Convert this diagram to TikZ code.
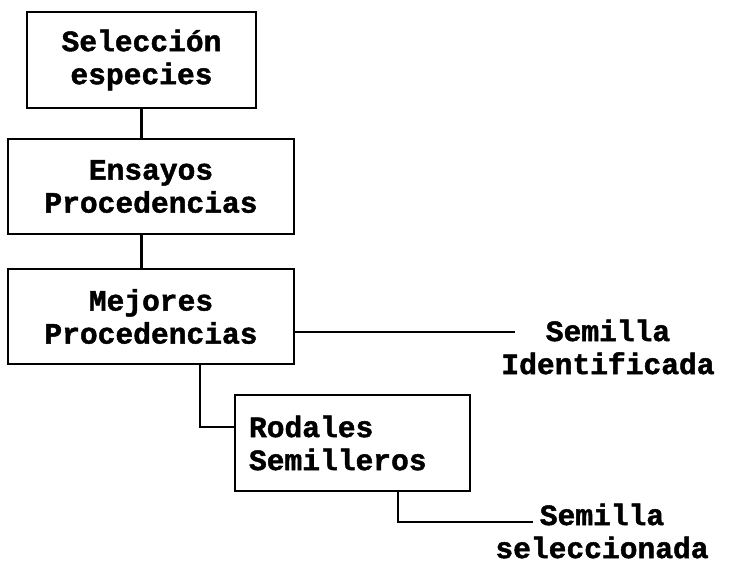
\documentclass[tikz,border=0pt]{standalone}
\usepackage{fontspec}
\setmonofont[BoldFeatures={FakeBold=1.5}]{Liberation Mono}
\begin{document}
\begin{tikzpicture}[x=1pt,y=-1pt,
  every node/.style={font=\ttfamily\bfseries\fontsize{29.6}{33}\selectfont},
  stepbox/.style={draw, line width=2.2pt, inner sep=0pt, align=center},
  link/.style={line width=2.2pt}]
\useasboundingbox (0,0) rectangle (754,564);
\node[stepbox, minimum width=229pt, minimum height=96pt] (b1) at (141.5,60) {Selección\\especies};
\node[stepbox, minimum width=286pt, minimum height=95pt] (b2) at (151,186.5) {Ensayos\\Procedencias};
\node[stepbox, minimum width=286pt, minimum height=95pt] (b3) at (151,316.5) {Mejores\\Procedencias};
\node[stepbox, minimum width=235pt, minimum height=96pt, align=left, text width=207pt] (b4) at (352.5,443) {Rodales\\Semilleros};
\node[align=center, inner sep=0pt] (l1) at (608,347) {Semilla\\Identificada};
\node[align=center, inner sep=0pt] (l2) at (602,531) {Semilla\\seleccionada};
\coordinate (c1) at (515,332);
\coordinate (c2) at (533,522);
\draw[link] (b1.south) -- (b1.south |- b2.north);
\draw[link] (b1.south |- b2.south) -- (b1.south |- b3.north);
\draw[link] (b3.east |- c1) -- (c1);
\draw[link] ([xshift=49pt]b3.south) |- ([yshift=16pt]b4.west);
\draw[link] ([xshift=45.5pt]b4.south) |- (c2);
\end{tikzpicture}
\end{document}
